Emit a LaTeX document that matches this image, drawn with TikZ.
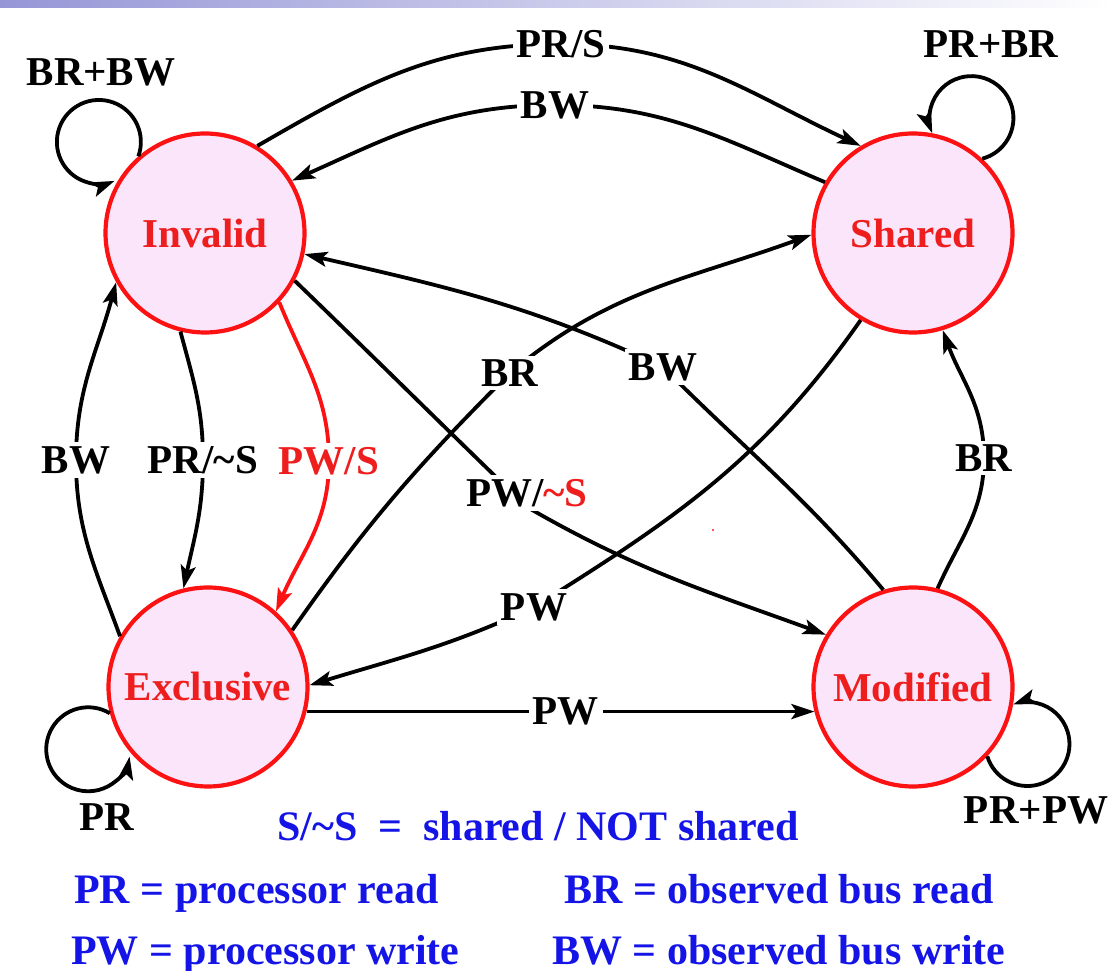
\documentclass[tikz,border=0pt]{standalone}
\usepackage{fontspec}
\setmainfont{Liberation Serif}
\usetikzlibrary{arrows.meta}
\definecolor{stred}{RGB}{252,18,18}
\definecolor{stfill}{RGB}{251,229,250}
\definecolor{txtred}{RGB}{238,30,30}
\definecolor{legblue}{RGB}{20,20,230}
\definecolor{barblue}{RGB}{150,150,215}
\begin{document}
\begin{tikzpicture}[x=1pt,y=1pt,
  state/.style={circle,draw=stred,fill=stfill,line width=4.2pt,minimum size=199pt,inner sep=0pt,
    font=\bfseries\fontsize{41}{41}\selectfont,text=txtred},
  arr/.style={line width=3.8pt,-{Stealth[length=23pt,width=15pt,inset=5pt]}},
  lbl/.style={fill=white,inner sep=4pt,font=\bfseries\fontsize{41}{41}\selectfont},
  leg/.style={anchor=base west,inner sep=0pt,text=legblue,font=\bfseries\fontsize{42}{42}\selectfont}]
\useasboundingbox (0,0) rectangle (1114,970);
\shade[left color=barblue,right color=white] (0,962) rectangle (1114,970);

% states
\node[state] (I) at (205,737) {Invalid};
\node[state] (S) at (913,737) {Shared};
\node[state] (E) at (208,283) {Exclusive};
\node[state] (M) at (913,283) {Modified};

% label positions
\coordinate (cPRS) at (561,926);
\coordinate (cBWt) at (555,865);
\coordinate (cBWl) at (76,510);
\coordinate (cPRnS) at (203,510);
\coordinate (cPWS) at (329,509);
\coordinate (wPWnS) at (527,463);
\coordinate (cPWnS) at (527,477);
\coordinate (cBRm) at (510,597);
\coordinate (cBWm) at (663,603);
\coordinate (cPWm) at (534,363);
\coordinate (cBRr) at (984,512);

% edges
\draw[arr] (I.59) to[out=30,in=180] (cPRS) to[out=0,in=155] (S.121);
\draw[arr] (S.150) to[out=157,in=0] (cBWt) to[out=180,in=24] (I.31);
\draw[arr] (E.150) to[out=110,in=-90] (cBWl) to[out=90,in=-105] (I.209);
\draw[arr] (I.256) to[out=-75,in=90] (cPRnS) to[out=-90,in=78] (E.104);
\draw[arr,draw=stred] (I.-43) to[out=-68,in=90] (cPWS) to[out=-90,in=67] (E.48);
\draw[arr] (I.-28) to[out=-44,in=136] (wPWnS) to[out=-30,in=160] (M.149);
\draw[arr] (E.34) to[out=55,in=-135] (cBRm) to[out=40,in=-160] (S.181);
\draw[arr] (M.107) to[out=130,in=-45] (cBWm) to[out=155,in=-13] (I.-12);
\draw[arr] (S.239) to[out=235,in=32] (cPWm) to[out=205,in=17] (E.1);
\draw[arr] (E.-14) -- node[lbl,pos=0.51] (lPWb) {PW} (M.194);
\draw[arr] (M.76) to[out=66,in=-90] (cBRr) to[out=90,in=-70] (S.-73);

% self loops
\draw[arr] (I.131) arc[start angle=-20,end angle=292,radius=42];
\draw[arr] (S.47) arc[start angle=-75,end angle=201,radius=42];
\draw[arr] (E.195) arc[start angle=59,end angle=350,radius=42];
\draw[arr] (M.-43) arc[start angle=197,end angle=470,radius=42];

% edge labels
\node[lbl] (lPRS) at (cPRS) {PR/S};
\node[lbl] (lBWt) at (cBWt) {BW};
\node[lbl] (lBWl) at (cBWl) {BW};
\node[lbl] (lPRnS) at (cPRnS) {PR/\textasciitilde S};
\node[lbl,text=txtred] (lPWS) at (cPWS) {PW/S};
\node[lbl] (lPWnS) at (cPWnS) {PW/\textcolor{txtred}{\textasciitilde S}};
\node[lbl] (lBRm) at (cBRm) {BR};
\node[lbl] (lBWm) at (cBWm) {BW};
\node[lbl] (lPWm) at (cPWm) {PW};
\node[lbl] (lBRr) at (cBRr) {BR};

% loop labels
\node[lbl,fill=none] (lBRBW) at (101,898) {BR+BW};
\node[lbl,fill=none] (lPRBR) at (991,926) {PR+BR};
\node[lbl,fill=none] (lPR) at (107,153) {PR};
\node[lbl,fill=none] (lPRPW) at (1036,160) {PR+PW};

% legend
\node[leg] (g0) at (277,130) {S/\textasciitilde S\ \ =\ \ shared / NOT shared};
\node[leg] (g1) at (74,67) {PR = processor read};
\node[leg] (g2) at (564,67) {BR = observed bus read};
\node[leg] (g3) at (71,6) {PW = processor write};
\node[leg] (g4) at (552,6) {BW = observed bus write};

\fill[txtred] (713,440) circle (1.2);
\end{tikzpicture}
\end{document}
